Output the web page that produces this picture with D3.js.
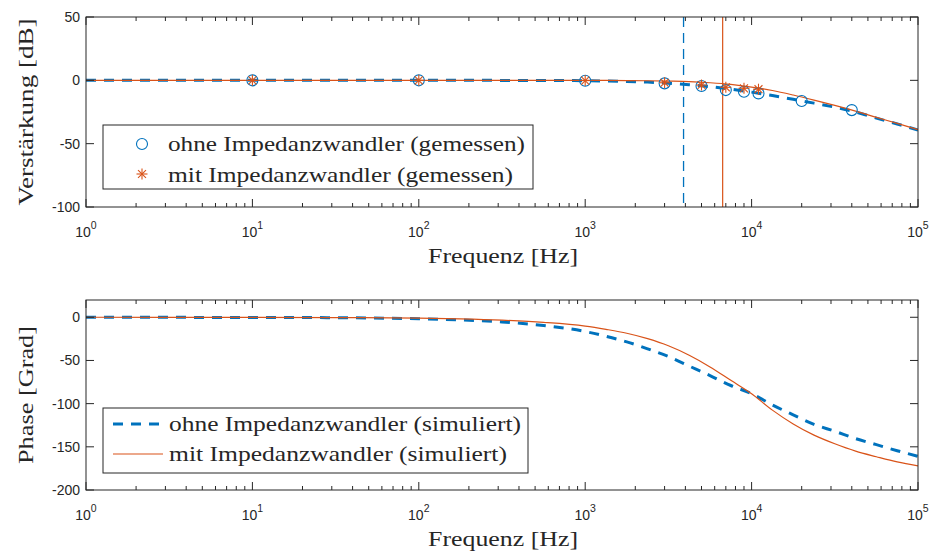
<!DOCTYPE html>
<html><head><meta charset="utf-8">
<script src="https://cdn.jsdelivr.net/npm/d3@7"></script>
<style>
html,body{margin:0;padding:0;background:#fff;}
svg{display:block;}
</style></head>
<body>
<svg id="chart" width="931" height="551"></svg>
<script>
// ---------- data ----------
const freqSim = [1, 3.16, 10, 31.6, 100, 178, 316, 562, 1000, 1334, 1778, 2371, 3162, 4217, 5623, 7499,
                 10000, 13335, 17783, 23714, 31623, 42170, 56234, 74989, 100000];
const gainOhneSim = [0, 0, 0, 0, -0.01, -0.02, -0.04, -0.12, -0.3, -0.5, -0.85, -1.4, -2.3, -3.5, -5.0, -7.0,
                     -9.3, -12.0, -15.0, -18.0, -21.2, -25.0, -29.8, -34.5, -39.2];
const gainMitSim  = [0, 0, 0, 0, 0, 0, -0.01, -0.02, -0.06, -0.1, -0.2, -0.32, -0.6, -1.0, -1.9, -3.2,
                     -5.3, -8.0, -11.6, -15.6, -19.8, -24.3, -29.2, -34.0, -39.0];
const phaseOhneSim = [0, -0.1, -0.2, -0.5, -1.7, -3.0, -5.4, -9.5, -16.5, -22, -28.5, -36.5, -45.5, -56.5, -67.5, -79,
                      -88.5, -101.5, -113, -124, -132, -140.5, -147.5, -154.5, -161];
const phaseMitSim  = [0, -0.1, -0.1, -0.3, -1.0, -1.9, -3.4, -5.9, -10.2, -14, -18.5, -24.8, -33, -44, -57.5, -73,
                      -88.5, -107.5, -123.5, -136.5, -146.5, -155, -161.5, -167.5, -172];

const freqMeasOhne = [10, 100, 1000, 3000, 5000, 7000, 9000, 11000, 20000, 40000];
const gainMeasOhne = [0, 0, -0.3, -2.4, -4.5, -7.7, -9.0, -10.3, -16.3, -23.5];
const freqMeasMit  = [10, 100, 1000, 3000, 5000, 7000, 9000, 11000];
const gainMeasMit  = [0, 0, -0.2, -1.9, -3.7, -5.5, -6.3, -7.0];

const cutoffOhne = 3900;
const cutoffMit = 6700;

const xTickExps = [0, 1, 2, 3, 4, 5];
const gainTicks = [50, 0, -50, -100];
const phaseTicks = [0, -50, -100, -150, -200];

const labelsTop = ["ohne Impedanzwandler (gemessen)", "mit Impedanzwandler (gemessen)"];
const labelsBottom = ["ohne Impedanzwandler (simuliert)", "mit Impedanzwandler (simuliert)"];
const xLabel = "Frequenz [Hz]";
const yLabelTop = "Verstärkung [dB]";
const yLabelBottom = "Phase [Grad]";

// ---------- styling ----------
const BLUE = "#0072BD", ORANGE = "#D95319", AX = "#262626";
const SERIF = "'Liberation Serif','DejaVu Serif',serif";
const SANS = "'Liberation Sans',Arial,sans-serif";

const svg = d3.select("#chart");
const L = 86, R = 918;
const x = d3.scaleLog().domain([1, 1e5]).range([L, R]);

function panel(top, bottom, yDomain, yTicks, yLabel, yLabelLen) {
  const y = d3.scaleLinear().domain(yDomain).range([bottom, top]);
  const g = svg.append("g");
  const id = "clip" + top;
  svg.append("clipPath").attr("id", id).append("rect")
    .attr("x", L).attr("y", top).attr("width", R - L).attr("height", bottom - top);
  const plot = g.append("g").attr("clip-path", `url(#${id})`);
  const axes = g.append("g");
  axes.append("rect").attr("x", L).attr("y", top).attr("width", R - L).attr("height", bottom - top)
    .attr("fill", "none").attr("stroke", AX).attr("stroke-width", 1);
  const minor = [];
  for (let e = 0; e < 5; e++) for (let m = 2; m <= 9; m++) minor.push(m * Math.pow(10, e));
  const major = xTickExps.map(e => Math.pow(10, e));
  [[major, 8], [minor, 4]].forEach(([vals, len]) => {
    vals.forEach(v => {
      const px = x(v);
      axes.append("line").attr("x1", px).attr("x2", px).attr("y1", bottom).attr("y2", bottom - len)
        .attr("stroke", AX).attr("stroke-width", 1);
      axes.append("line").attr("x1", px).attr("x2", px).attr("y1", top).attr("y2", top + len)
        .attr("stroke", AX).attr("stroke-width", 1);
    });
  });
  xTickExps.forEach(e => {
    const t = axes.append("text").attr("x", x(Math.pow(10, e))).attr("y", bottom + 30)
      .attr("text-anchor", "middle").attr("font-family", SANS).attr("font-size", 14).attr("fill", AX);
    t.append("tspan").text("10");
    t.append("tspan").attr("dy", -8).attr("font-size", 10.5).text(e);
  });
  yTicks.forEach(v => {
    const py = y(v);
    axes.append("line").attr("x1", L).attr("x2", L + 8).attr("y1", py).attr("y2", py).attr("stroke", AX);
    axes.append("line").attr("x1", R).attr("x2", R - 8).attr("y1", py).attr("y2", py).attr("stroke", AX);
    axes.append("text").attr("x", L - 6).attr("y", py + 5).attr("text-anchor", "end")
      .attr("font-family", SANS).attr("font-size", 14).attr("fill", AX).text(v);
  });
  axes.append("text").attr("x", (L + R) / 2 + 1).attr("y", bottom + 56).attr("text-anchor", "middle")
    .attr("font-family", SERIF).attr("font-size", 22).attr("fill", AX)
    .attr("textLength", 150).attr("lengthAdjust", "spacingAndGlyphs").text(xLabel);
  axes.append("text").attr("transform", `translate(33,${(top + bottom) / 2}) rotate(-90)`)
    .attr("text-anchor", "middle").attr("font-family", SERIF).attr("font-size", 22).attr("fill", AX)
    .attr("textLength", yLabelLen).attr("lengthAdjust", "spacingAndGlyphs").text(yLabel);
  return { y, plot, axes };
}

// ---------- top panel ----------
const P1 = panel(17, 207, [-100, 50], gainTicks, yLabelTop, 187);
const line1 = d3.line().x((d, i) => x(freqSim[i])).y(d => P1.y(d)).curve(d3.curveMonotoneX);
P1.plot.append("line").attr("x1", x(cutoffOhne)).attr("x2", x(cutoffOhne)).attr("y1", 17).attr("y2", 207)
  .attr("stroke", BLUE).attr("stroke-width", 1.3).attr("stroke-dasharray", "10,6");
P1.plot.append("line").attr("x1", x(cutoffMit)).attr("x2", x(cutoffMit)).attr("y1", 17).attr("y2", 207)
  .attr("stroke", ORANGE).attr("stroke-width", 1.2);
P1.plot.append("path").datum(gainOhneSim).attr("d", line1).attr("fill", "none")
  .attr("stroke", BLUE).attr("stroke-width", 3).attr("stroke-dasharray", "10,8");
P1.plot.append("path").datum(gainMitSim).attr("d", line1).attr("fill", "none")
  .attr("stroke", ORANGE).attr("stroke-width", 1.2);
P1.plot.selectAll("circle.m").data(freqMeasOhne).enter().append("circle")
  .attr("cx", d => x(d)).attr("cy", (d, i) => P1.y(gainMeasOhne[i])).attr("r", 5.5)
  .attr("fill", "none").attr("stroke", BLUE).attr("stroke-width", 1.1);
function star(sel, cx, cy, r) {
  const g = sel.append("g").attr("transform", `translate(${cx},${cy})`)
    .attr("stroke", ORANGE).attr("stroke-width", 1.1);
  g.append("line").attr("x1", -r).attr("x2", r).attr("y1", 0).attr("y2", 0);
  g.append("line").attr("x1", 0).attr("x2", 0).attr("y1", -r).attr("y2", r);
  const k = r * 0.72;
  g.append("line").attr("x1", -k).attr("x2", k).attr("y1", -k).attr("y2", k);
  g.append("line").attr("x1", -k).attr("x2", k).attr("y1", k).attr("y2", -k);
}
freqMeasMit.forEach((f, i) => star(P1.plot, x(f), P1.y(gainMeasMit[i]), 5.5));

const lg1 = P1.axes.append("g");
lg1.append("rect").attr("x", 103).attr("y", 125).attr("width", 430).attr("height", 64)
  .attr("fill", "#fff").attr("stroke", AX).attr("stroke-width", 1);
lg1.append("circle").attr("cx", 142).attr("cy", 144).attr("r", 5.5).attr("fill", "none")
  .attr("stroke", BLUE).attr("stroke-width", 1.1);
star(lg1, 142, 174, 5.5);
const lgW1 = [357, 345];
labelsTop.forEach((t, i) => {
  lg1.append("text").attr("x", 168).attr("y", 151 + i * 31).attr("font-family", SERIF).attr("font-size", 22)
    .attr("fill", AX).attr("textLength", lgW1[i]).attr("lengthAdjust", "spacingAndGlyphs").text(t);
});

// ---------- bottom panel ----------
const P2 = panel(300, 490, [-200, 20], phaseTicks, yLabelBottom, 138);
const line2 = d3.line().x((d, i) => x(freqSim[i])).y(d => P2.y(d)).curve(d3.curveMonotoneX);
P2.plot.append("path").datum(phaseOhneSim).attr("d", line2).attr("fill", "none")
  .attr("stroke", BLUE).attr("stroke-width", 3).attr("stroke-dasharray", "10,8");
P2.plot.append("path").datum(phaseMitSim).attr("d", line2).attr("fill", "none")
  .attr("stroke", ORANGE).attr("stroke-width", 1.2);

const lg2 = P2.axes.append("g");
lg2.append("rect").attr("x", 103).attr("y", 408).attr("width", 425).attr("height", 65)
  .attr("fill", "#fff").attr("stroke", AX).attr("stroke-width", 1);
lg2.append("line").attr("x1", 113).attr("x2", 163).attr("y1", 424).attr("y2", 424)
  .attr("stroke", BLUE).attr("stroke-width", 3).attr("stroke-dasharray", "10,8");
lg2.append("line").attr("x1", 113).attr("x2", 163).attr("y1", 454).attr("y2", 454)
  .attr("stroke", ORANGE).attr("stroke-width", 1.2);
const lgW2 = [352, 338];
labelsBottom.forEach((t, i) => {
  lg2.append("text").attr("x", 169).attr("y", 431 + i * 30).attr("font-family", SERIF).attr("font-size", 22)
    .attr("fill", AX).attr("textLength", lgW2[i]).attr("lengthAdjust", "spacingAndGlyphs").text(t);
});
</script>
</body></html>
